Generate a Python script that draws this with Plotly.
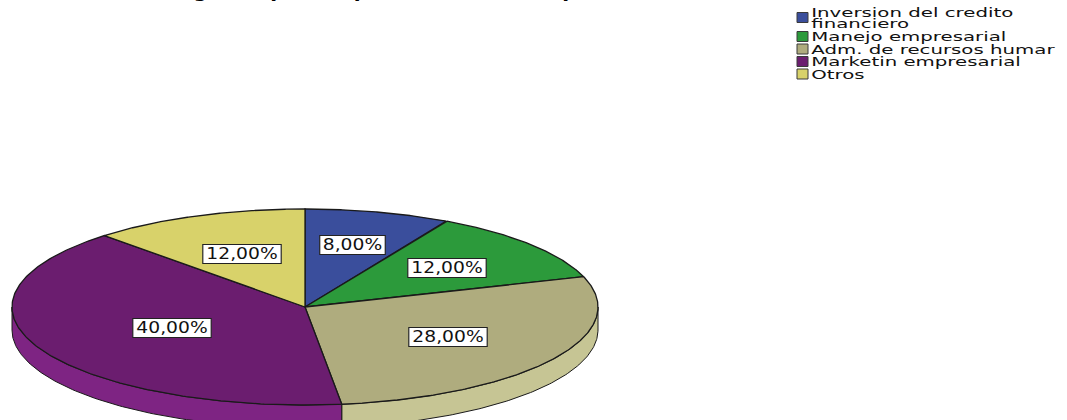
import json
import numpy as np
import plotly.graph_objects as go

# ---- data ----
categories = [
    "Inversion del credito financiero",
    "Manejo empresarial",
    "Adm. de recursos humar",
    "Marketin empresarial",
    "Otros",
]
legend_lines = [
    ["Inversion del credito", "financiero"],
    ["Manejo empresarial"],
    ["Adm. de recursos humar"],
    ["Marketin empresarial"],
    ["Otros"],
]
percentages = [8.0, 12.0, 28.0, 40.0, 12.0]
title_text = "Agenda para capacitarse en la empresa"

# ---- style ----
top_colors = ["#3A4E9C", "#2C9A3B", "#AFAC7E", "#6B1D6F", "#D8D26A"]
side_colors = ["#33458A", "#268A34", "#C6C594", "#7E2483", "#C9C35E"]
edge_color = "#1A1A1A"
label_r = [0.65, 0.63, 0.58, 0.50, 0.58]

W, H = 1067, 420
cx, cy = 305.0, 307.0      # centre of the top face (axis units = pixels)
rx, ry = 293.0, 98.0       # ellipse radii of the tilted disc
depth = 23.0               # thickness of the disc wall

LABEL_STRETCH = 1.17       # horizontal stretch of the value labels
LEGEND_STRETCH = 1.52      # horizontal stretch of the legend text


def rim(theta, drop=0.0):
    """Point on the disc rim; theta in degrees, clockwise from 12 o'clock."""
    t = np.radians(theta)
    return cx + rx * np.sin(t), cy - ry * np.cos(t) + drop


vals = np.array(percentages, dtype=float)
bounds = np.concatenate([[0.0], np.cumsum(vals) / vals.sum() * 360.0])

fig = go.Figure()
stretch = []   # per annotation: [factor, pivot] ; pivot 0 = left, 0.5 = centre

# visible wall of the disc (front half, 90..270 degrees)
for i in range(len(vals)):
    a0, a1 = max(bounds[i], 90.0), min(bounds[i + 1], 270.0)
    if a1 <= a0:
        continue
    th = np.linspace(a0, a1, 120)
    xt, yt = rim(th)
    xb, yb = rim(th[::-1], depth)
    fig.add_trace(go.Scatter(
        x=np.concatenate([xt, xb, xt[:1]]),
        y=np.concatenate([yt, yb, yt[:1]]),
        mode="lines", fill="toself", fillcolor=side_colors[i],
        line=dict(color=edge_color, width=1),
        hoverinfo="skip", showlegend=False,
    ))

# top faces of the slices
for i, name in enumerate(categories):
    th = np.linspace(bounds[i], bounds[i + 1], 200)
    xs, ys = rim(th)
    fig.add_trace(go.Scatter(
        x=np.concatenate([[cx], xs, [cx]]),
        y=np.concatenate([[cy], ys, [cy]]),
        mode="lines", fill="toself", fillcolor=top_colors[i],
        line=dict(color=edge_color, width=1.3),
        name=name, text=f"{percentages[i]:.2f}%".replace(".", ","),
        hoverinfo="name+text", showlegend=False,
    ))

# value labels
for i in range(len(vals)):
    mid = np.radians((bounds[i] + bounds[i + 1]) / 2.0)
    lx = cx + label_r[i] * rx * np.sin(mid)
    ly = cy - label_r[i] * ry * np.cos(mid)
    txt = f"{percentages[i]:.2f}%".replace(".", ",")
    fig.add_annotation(
        x=lx, y=ly, xref="x", yref="y", text=txt, showarrow=False,
        font=dict(family="DejaVu Sans", size=16, color="#111111"),
        bgcolor="white", bordercolor="#222222", borderwidth=1, borderpad=1,
        width=11 * len(txt) - 2, height=16,
    )
    stretch.append([LABEL_STRETCH, 0.5])

# legend block
leg_x = 797
row_y = [12.0, 36.5, 49.0, 61.5, 74.0]
line_gap = 11.0
for i, lines in enumerate(legend_lines):
    y = row_y[i]
    yc = y + (len(lines) - 1) * line_gap / 2.0
    fig.add_shape(type="rect", xref="x", yref="y",
                  x0=leg_x, x1=leg_x + 11, y0=yc - 5, y1=yc + 5,
                  fillcolor=top_colors[i], line=dict(color="#3A3A3A", width=1))
    for k, ln in enumerate(lines):
        fig.add_annotation(
            x=leg_x + 13, y=y + k * line_gap, xref="x", yref="y", text=ln,
            showarrow=False, xanchor="left", yanchor="middle", align="left",
            font=dict(family="DejaVu Sans", size=13, color="#111111"),
            borderpad=0,
        )
        stretch.append([LEGEND_STRETCH, 0.0])

# chart title (runs off the top edge)
fig.add_annotation(
    x=401, y=1 + 10.0 / H, xref="x", yref="paper", text=f"<b>{title_text}</b>",
    showarrow=False, yanchor="middle",
    font=dict(family="DejaVu Sans", size=20, color="#000000"),
)
stretch.append([1.0, 0.5])

fig.update_layout(
    width=W, height=H, margin=dict(l=0, r=0, t=0, b=0),
    paper_bgcolor="white", plot_bgcolor="white", showlegend=False,
    xaxis=dict(range=[0, W], visible=False, fixedrange=True),
    yaxis=dict(range=[H, 0], visible=False, fixedrange=True),
)

# widen the annotation glyphs horizontally once the plot is drawn
post_js = """
var gd = document.getElementById('{plot_id}');
var sx = %s;
gd.querySelectorAll('g.annotation').forEach(function(g) {
  var i = +g.getAttribute('data-index');
  var s = sx[i];
  if (!s || s[0] === 1) return;
  var bb = g.getBBox();
  var px = bb.x + bb.width * s[1];
  var old = g.getAttribute('transform') || '';
  g.setAttribute('transform', old + ' translate(' + px + ',0) scale(' + s[0] +
                 ',1) translate(' + (-px) + ',0)');
});
""" % json.dumps(stretch)

fig.write_html("out.html", post_script=post_js)
